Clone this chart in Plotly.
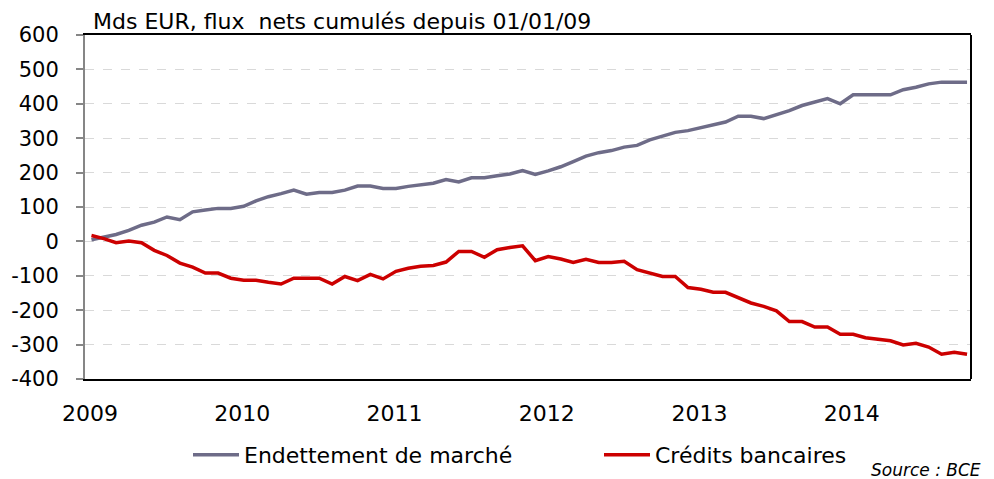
import plotly.graph_objects as go

# Monthly observations, Jan 2009 -> Oct 2014
months = [f"{y}-{m:02d}" for y in range(2009, 2015) for m in range(1, 13)][:70]

endettement_marche = [5, 13, 20, 32, 47, 56, 71, 63, 86, 91,
                      96, 96, 102, 118, 130, 139, 149, 137, 142, 142,
                      149, 161, 161, 154, 154, 160, 164, 169, 180, 173,
                      185, 185, 191, 196, 206, 195, 205, 217, 232, 248,
                      258, 264, 274, 279, 295, 307, 317, 322, 331, 341,
                      347, 364, 364, 357, 368, 380, 395, 405, 415, 400,
                      426, 426, 426, 426, 441, 448, 458, 463, 463, 463]

credits_bancaires = [17, 8, -4, 1, -4, -26, -41, -63, -75, -92,
                     -92, -107, -113, -113, -119, -124, -107, -107, -107, -124,
                     -102, -114, -96, -109, -87, -78, -72, -70, -60, -29,
                     -29, -46, -24, -18, -13, -56, -44, -51, -61, -52,
                     -61, -61, -58, -82, -93, -102, -102, -134, -139, -148,
                     -148, -163, -179, -189, -202, -233, -233, -249, -249, -270,
                     -270, -280, -285, -289, -301, -296, -307, -328, -322, -328]

y_ticks = [-400, -300, -200, -100, 0, 100, 200, 300, 400, 500, 600]
y_tick_labels = [str(v) for v in y_ticks]
x_range = ["2009-01-01", "2014-10-26"]
y_range = [-400, 600]

FONT = "DejaVu Sans"
GRAY = "#6e6c88"
RED = "#cc0000"
AXIS_GRAY = "#868686"

# the page body keeps an 8px default margin, so the figure is 8px smaller
W, H = 986, 471

fig = go.Figure()
fig.add_trace(go.Scatter(x=months, y=endettement_marche, mode="lines",
                         name="Endettement de marché",
                         xperiod="M1", xperiodalignment="middle",
                         line=dict(color=GRAY, width=3.5)))
fig.add_trace(go.Scatter(x=months, y=credits_bancaires, mode="lines",
                         name="Crédits bancaires",
                         xperiod="M1", xperiodalignment="middle",
                         line=dict(color=RED, width=3.5)))

zero_pos = (0 - y_range[0]) / (y_range[1] - y_range[0])

fig.update_layout(
    width=W, height=H,
    margin=dict(l=77, r=23, t=27, b=100, autoexpand=False),
    paper_bgcolor="white", plot_bgcolor="white",
    font=dict(family=FONT, color="black", size=20),
    xaxis=dict(type="date", range=x_range, tick0="2009-01-01", dtick="M12",
               tickformat="%Y", ticks="", showgrid=False, zeroline=False,
               showline=True, linecolor="black", linewidth=2, mirror=True,
               tickfont=dict(size=22, family=FONT), ticklabelstandoff=14,
               ticklabelshift=5, automargin=False),
    xaxis2=dict(type="date", range=x_range, tick0="2009-01-01", dtick="M12",
                overlaying="x", anchor="free", position=zero_pos, side="bottom",
                showticklabels=False, ticks="outside", ticklen=8, tickwidth=2,
                tickcolor=AXIS_GRAY, showline=True, linecolor=AXIS_GRAY,
                linewidth=2, showgrid=False, zeroline=False, automargin=False),
    yaxis=dict(range=y_range, tickvals=y_ticks, ticktext=y_tick_labels,
               showgrid=True, gridcolor="#d9d9d9", griddash="dash", gridwidth=1,
               zeroline=False, showline=True, linecolor=AXIS_GRAY, linewidth=2,
               ticks="outside", ticklen=7, tickwidth=2, tickcolor=AXIS_GRAY,
               tickfont=dict(size=21, family=FONT), ticklabelstandoff=13,
               automargin=False),
    showlegend=True,
    legend=dict(orientation="h", xref="container", yref="container",
                x=180 / W, y=1 - 447 / H, xanchor="left", yanchor="middle",
                font=dict(size=22, family=FONT), entrywidth=350,
                entrywidthmode="pixels", itemwidth=46,
                bgcolor="rgba(0,0,0,0)", borderwidth=0, tracegroupgap=0),
    shapes=[dict(type="line", xref="paper", yref="paper", x0=1, x1=1, y0=0, y1=1,
                 line=dict(color="black", width=2))],
    annotations=[
        dict(text="Mds EUR, flux  nets cumulés depuis 01/01/09", xref="paper",
             yref="paper", x=0, y=1, xanchor="left", yanchor="middle",
             xshift=6, yshift=14, showarrow=False,
             font=dict(size=22, family=FONT, color="black")),
        dict(text="<i>Source : BCE</i>", xref="paper", yref="paper", x=1, y=0,
             xanchor="right", yanchor="middle", xshift=12, yshift=-91,
             showarrow=False, font=dict(size=17, family=FONT, color="black")),
    ],
)

fig.write_html("out.html")
